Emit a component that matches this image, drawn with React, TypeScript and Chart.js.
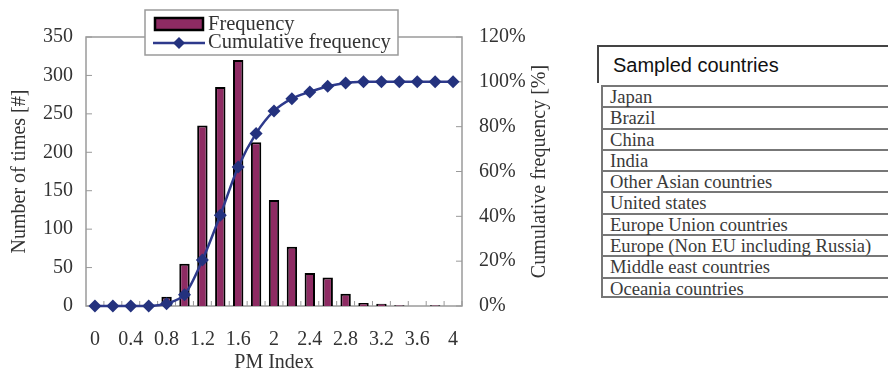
import React, { useEffect, useRef } from "react";
import { Chart, registerables } from "chart.js";

Chart.register(...registerables);

const pmIndex = ["0", "0.2", "0.4", "0.6", "0.8", "1", "1.2", "1.4", "1.6", "1.8", "2", "2.2", "2.4", "2.6", "2.8", "3", "3.2", "3.4", "3.6", "3.8", "4"];
const frequency = [0, 0, 0, 0, 12, 55, 235, 285, 320, 213, 138, 77, 43, 37, 16, 4, 3, 1, 0, 1, 0];
const cumulativePct = [0, 0, 0, 0, 1, 5, 20.5, 40.5, 62, 77, 87, 92.5, 95.5, 98, 99.5, 100, 100, 100, 100, 100, 100];
const countries = [
  "Japan",
  "Brazil",
  "China",
  "India",
  "Other Asian countries",
  "United states",
  "Europe Union countries",
  "Europe (Non EU including Russia)",
  "Middle east countries",
  "Oceania countries",
];

const SERIF = '"Liberation Serif", "Times New Roman", serif';
const TXT = "#333";
const BAR = "#8E2B63";
const LINE = "#2E3A8C";
const MARK = "#24327E";

const decorPlugin = {
  id: "decor",
  beforeDatasetsDraw(chart: any) {
    const { ctx, chartArea: a } = chart;
    const yl = chart.scales.y;
    const yr = chart.scales.y1;
    const xs = chart.scales.x;
    ctx.save();
    ctx.strokeStyle = "#9a9a9a";
    ctx.lineWidth = 1.5;
    ctx.strokeRect(a.left, a.top, a.right - a.left, a.bottom - a.top);
    ctx.lineWidth = 1;
    ctx.beginPath();
    yl.ticks.forEach((t: any) => {
      const y = yl.getPixelForValue(t.value);
      ctx.moveTo(a.left, y);
      ctx.lineTo(a.left + 6, y);
    });
    yr.ticks.forEach((t: any) => {
      const y = yr.getPixelForValue(t.value);
      ctx.moveTo(a.right - 6, y);
      ctx.lineTo(a.right, y);
    });
    const half = (xs.getPixelForValue(1) - xs.getPixelForValue(0)) / 2;
    for (let i = 0; i < pmIndex.length; i++) {
      const x = xs.getPixelForValue(i) + half;
      ctx.moveTo(x, a.bottom);
      ctx.lineTo(x, a.bottom - 5);
    }
    ctx.stroke();
    ctx.restore();
  },
  afterDraw(chart: any) {
    const { ctx, chartArea: a } = chart;
    ctx.save();
    ctx.fillStyle = TXT;
    ctx.font = `20px ${SERIF}`;
    ctx.textAlign = "center";
    ctx.textBaseline = "middle";
    // x title
    ctx.fillText("PM Index", (a.left + a.right) / 2, a.bottom + 57);
    // left title
    ctx.save();
    ctx.translate(20, (a.top + a.bottom) / 2);
    ctx.rotate(-Math.PI / 2);
    ctx.fillText("Number of times [#]", 0, 0);
    ctx.restore();
    // right title
    ctx.save();
    ctx.translate(a.right + 78, (a.top + a.bottom) / 2);
    ctx.rotate(-Math.PI / 2);
    ctx.fillText("Cumulative frequency [%]", 0, 0);
    ctx.restore();

    // legend
    const bx = a.left + 59;
    const by = 10;
    const bw = 253;
    const bh = 45;
    ctx.fillStyle = "#fff";
    ctx.fillRect(bx, by, bw, bh);
    ctx.strokeStyle = "#9a9a9a";
    ctx.lineWidth = 1.5;
    ctx.strokeRect(bx, by, bw, bh);
    // bar swatch
    ctx.fillStyle = BAR;
    ctx.fillRect(bx + 10, by + 8, 48, 12);
    ctx.strokeStyle = "#000";
    ctx.lineWidth = 2.5;
    ctx.strokeRect(bx + 10, by + 8, 48, 12);
    // line swatch
    ctx.strokeStyle = LINE;
    ctx.lineWidth = 2.5;
    ctx.beginPath();
    ctx.moveTo(bx + 8, by + 33);
    ctx.lineTo(bx + 60, by + 33);
    ctx.stroke();
    ctx.fillStyle = MARK;
    ctx.beginPath();
    const cx = bx + 34;
    const cy = by + 33;
    ctx.moveTo(cx, cy - 6);
    ctx.lineTo(cx + 6, cy);
    ctx.lineTo(cx, cy + 6);
    ctx.lineTo(cx - 6, cy);
    ctx.closePath();
    ctx.fill();
    ctx.fillStyle = TXT;
    ctx.textAlign = "left";
    ctx.font = `20.5px ${SERIF}`;
    ctx.fillText("Frequency", bx + 63, by + 15);
    ctx.fillText("Cumulative frequency", bx + 63, by + 33);
    ctx.restore();
  },
};

function App() {
  const ref = useRef<HTMLCanvasElement | null>(null);

  useEffect(() => {
    if (!ref.current) return;
    const font = { family: SERIF, size: 20 };
    const chart = new Chart(ref.current, {
      type: "bar",
      data: {
        labels: pmIndex,
        datasets: [
          {
            type: "line",
            label: "Cumulative frequency",
            data: cumulativePct,
            yAxisID: "y1",
            borderColor: LINE,
            borderWidth: 2.5,
            pointStyle: "rectRot",
            pointRadius: 6.5,
            pointBackgroundColor: MARK,
            pointBorderColor: MARK,
            pointBorderWidth: 0,
            tension: 0.3,
            clip: false,
            order: 0,
          } as any,
          {
            type: "bar",
            label: "Frequency",
            data: frequency,
            yAxisID: "y",
            backgroundColor: BAR,
            borderColor: "#000",
            borderWidth: 2,
            barPercentage: 0.58,
            categoryPercentage: 1,
            order: 1,
          },
        ],
      },
      options: {
        responsive: false,
        animation: false,
        devicePixelRatio: 1,
        layout: { padding: { left: 8, top: 37, right: 0, bottom: 0 } },
        plugins: { legend: { display: false }, tooltip: { enabled: false } },
        scales: {
          x: {
            grid: { display: false, drawTicks: false },
            border: { display: false },
            ticks: {
              autoSkip: false,
              maxRotation: 0,
              minRotation: 0,
              padding: 22,
              color: TXT,
              font,
              callback: (_v: any, i: number) => (i % 2 === 0 ? pmIndex[i] : ""),
            },
            afterFit: (s: any) => {
              s.height = 65;
            },
          },
          y: {
            position: "left",
            min: 0,
            max: 350,
            ticks: { stepSize: 50, padding: 13, color: TXT, font },
            grid: { display: false, drawTicks: false },
            border: { display: false },
            afterFit: (s: any) => {
              s.width = 78;
            },
          },
          y1: {
            position: "right",
            min: 0,
            max: 120,
            ticks: {
              stepSize: 20,
              padding: 17,
              color: TXT,
              font,
              callback: (v: any) => `${v}%`,
            },
            grid: { display: false, drawTicks: false },
            border: { display: false },
            afterFit: (s: any) => {
              s.width = 108;
            },
          },
        },
      } as any,
      plugins: [decorPlugin],
    });
    return () => chart.destroy();
  }, []);

  const rowH = 21.3;
  return (
    <div style={{ position: "fixed", left: 0, top: 0, width: 888, height: 371, background: "#fff", overflow: "hidden" }}>
      <canvas ref={ref} width={570} height={371} style={{ position: "absolute", left: 0, top: 0, width: 570, height: 371 }} />
      <div
        style={{
          position: "absolute",
          left: 597,
          top: 45,
          width: 300,
          height: 38,
          borderTop: "2px solid #444",
          borderLeft: "2px solid #444",
          boxSizing: "border-box",
          fontFamily: '"Liberation Sans", Arial, sans-serif',
          fontSize: 20,
          color: "#111",
          paddingLeft: 14,
          paddingTop: 6,
          lineHeight: "24px",
        }}
      >
        Sampled countries
      </div>
      <div style={{ position: "absolute", left: 601, top: 85, width: 300 }}>
        {countries.map((c, i) => (
          <div
            key={c}
            style={{
              height: rowH,
              boxSizing: "border-box",
              borderTop: "2px solid #777",
              borderLeft: "2px solid #777",
              borderBottom: i === countries.length - 1 ? "2px solid #777" : "none",
              fontFamily: SERIF,
              fontSize: 18.6,
              color: "#3a3a3a",
              paddingLeft: 7,
              lineHeight: "19px",
              whiteSpace: "nowrap",
            }}
          >
            {c}
          </div>
        ))}
      </div>
    </div>
  );
}

export default App;
